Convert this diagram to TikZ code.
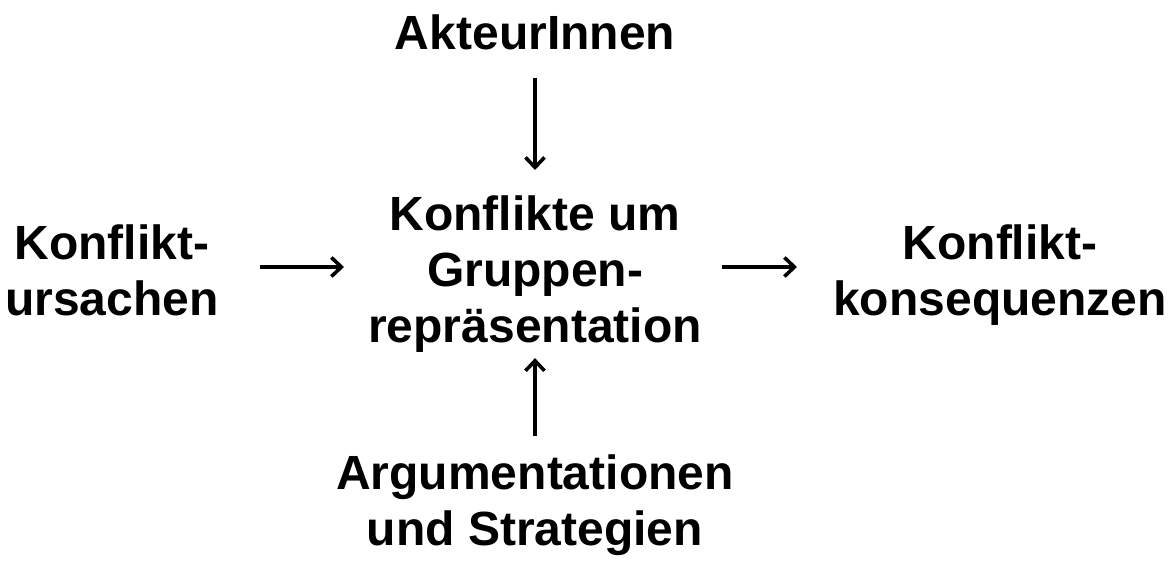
\documentclass[tikz,border=0pt]{standalone}
\usepackage{fontspec}
\setmainfont{Liberation Sans}
\usetikzlibrary{arrows.meta}
\begin{document}
\begin{tikzpicture}[x=1pt,y=-1pt,
  label/.style={font=\fontsize{48}{56}\selectfont\bfseries, align=center, inner sep=0pt},
  arr/.style={line width=3.6pt, -{Straight Barb[length=10pt,width=19pt,line width=3.6pt]}}]
  \useasboundingbox (0,0) rectangle (1173,561);
  \node[label, anchor=base] (act) at (535,50) {AkteurInnen};
  \node[label, anchor=north] (mid) at (535,196) {Konflikte um\\Gruppen-\\repräsentation};
  \node[label, anchor=north] (cause) at (112,225) {Konflikt-\\ursachen};
  \node[label, anchor=north] (cons) at (1000,225) {Konflikt-\\konsequenzen};
  \node[label, anchor=north] (arg) at (535,455) {Argumentationen\\und Strategien};
  % connectors into and out of the central node
  \draw[arr] ([xshift=148pt]cause.center |- 0,267) -- ([xshift=-191pt]mid.center |- 0,267);
  \draw[arr] ([xshift=187pt]mid.center |- 0,267) -- ([xshift=-203pt]cons.center |- 0,267);
  \draw[arr] ([yshift=-27pt]act.south) -- ([yshift=26pt]mid.north);
  \draw[arr] ([yshift=19pt]arg.north) -- ([yshift=-5pt]mid.south);
\end{tikzpicture}
\end{document}
